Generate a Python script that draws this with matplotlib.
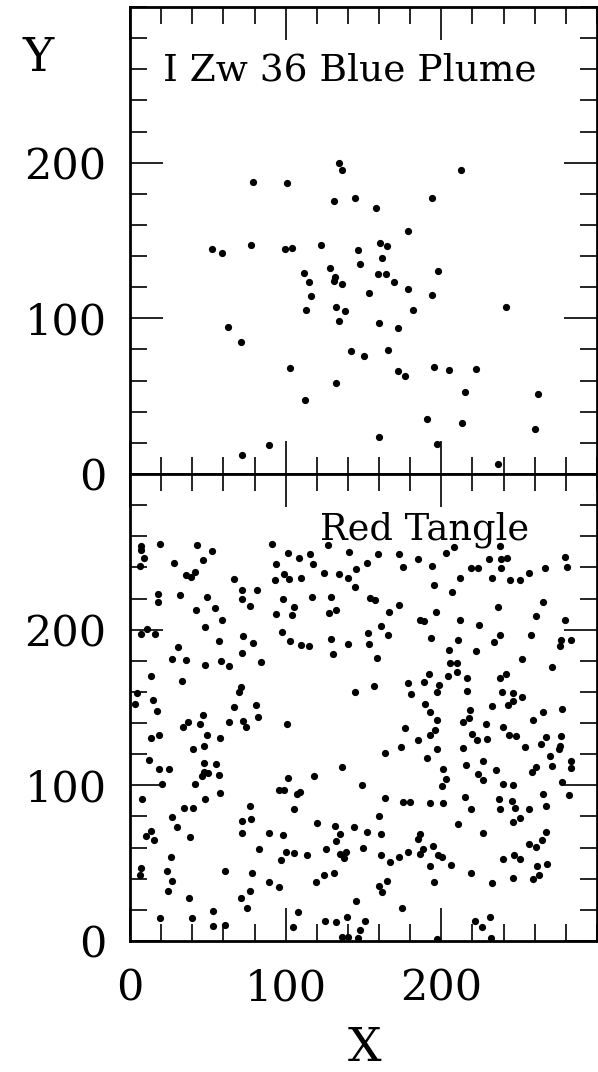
import matplotlib
matplotlib.use("Agg")
import matplotlib.pyplot as plt
from matplotlib.ticker import MultipleLocator

# ---------------- data ----------------
blue_x = [134.5, 136.4, 79.2, 100.8, 131.2, 144.7, 52.7, 59.1, 77.9, 99.7, 104.0, 122.7,
          146.4, 147.9, 128.2, 111.5, 131.9, 131.2, 114.7, 136.2, 153.5, 116.5, 132.1, 113.0,
          138.3, 134.5, 62.9, 71.5, 142.2, 150.3, 103.0, 132.3, 112.4, 89.1, 71.9,
          212.6, 194.0, 158.0, 178.7, 160.6, 165.4, 162.2, 198.0, 159.4, 164.4, 169.9, 178.3,
          194.2, 241.7, 181.5, 159.7, 171.9, 165.5, 171.9, 176.5, 195.1, 205.2, 222.2, 215.2,
          262.2, 190.8, 213.0, 260.3, 159.7, 197.1, 236.5]
blue_y = [200.1, 195.6, 187.7, 187.1, 175.1, 177.0, 144.7, 142.0, 147.1, 144.3, 145.4, 147.3,
          143.9, 134.9, 132.3, 129.1, 126.6, 124.0, 123.4, 122.1, 116.3, 114.6, 107.5, 105.6,
          104.5, 98.3, 94.7, 84.8, 79.1, 75.6, 68.4, 58.5, 47.6, 18.5, 12.1,
          195.0, 177.0, 170.9, 156.3, 148.2, 146.2, 138.5, 130.2, 128.7, 128.5, 123.1, 119.1,
          114.8, 107.1, 105.4, 97.2, 93.8, 79.5, 66.0, 63.0, 69.0, 66.9, 67.5, 52.8,
          51.5, 35.2, 32.6, 29.0, 23.6, 19.4, 6.7]

red_x = [7.1, 7.1, 9.0, 6.6, 19.5, 43.0, 52.5, 47.1, 28.0, 35.7, 39.2, 41.9, 66.6, 72.2, 72.0,
         81.3, 77.4, 18.2, 18.2, 32.1, 49.6, 54.7, 42.6, 58.9, 48.2, 10.6, 7.1, 15.8, 91.2, 101.5,
         93.8, 98.7, 93.1, 102.1, 98.5, 93.8, 97.4, 72.6,
         108.7, 115.4, 117.3, 127.4, 140.7, 159.3, 152.3, 145.0, 134.3, 139.8, 124.4, 109.8,
         144.3, 117.1, 128.9, 153.9, 157.5, 105.3, 103.8, 127.6, 132.5, 172.7, 166.5, 186.6,
         189.0, 196.3, 161.0, 153.1, 165.8, 172.7, 175.5, 185.0, 194.2, 195.1,
         202.8, 207.9, 237.8, 230.6, 238.3, 242.2, 219.0, 223.3, 238.3, 279.5, 280.5, 266.8,
         256.6, 211.7, 232.6, 244.1, 250.6, 206.9, 265.1, 236.3, 260.9, 211.9, 224.3, 279.4,
         238.0, 257.3,
         57.4, 79.1, 72.0, 102.7, 30.6, 26.8, 35.7, 48.2, 58.7, 63.4, 84.1, 13.5, 33.4, 71.1,
         70.0, 4.7, 3.0, 14.8, 17.5, 67.0, 80.9, 82.4, 46.9, 37.4, 34.3, 45.2, 63.6, 72.5, 74.2,
         100.6, 49.4, 18.6, 13.5, 57.8, 47.3, 40.5, 12.0, 47.3, 55.4, 18.6, 25.2, 47.3, 50.1,
         46.2, 57.4, 20.5, 41.9, 101.5, 95.5, 98.9,
         109.6, 115.0, 128.9, 139.8, 153.5, 130.2, 158.6, 193.5, 144.5, 156.7, 178.3, 189.0,
         192.0, 198.2, 196.9, 180.6, 189.2, 192.7, 197.2, 176.8, 195.9, 192.7, 184.7, 174.2,
         163.5, 197.4, 191.1, 136.4, 118.2, 149.0, 201.0, 200.2,
         210.9, 204.9, 205.5, 210.2, 210.2, 204.2, 216.6, 216.3, 222.2, 234.0, 251.8, 276.8,
         283.0, 276.3, 271.4, 241.7, 237.8, 239.1, 245.8, 251.8, 245.8, 243.0, 232.3, 218.2,
         218.0, 213.9, 228.8, 265.4, 277.6, 259.2, 239.5, 219.4, 222.9, 229.5, 243.4, 248.1,
         267.4, 276.6, 264.2, 276.2, 275.5, 253.7, 214.1, 269.9, 283.0, 283.2, 271.2, 260.5,
         258.3, 226.8, 216.0, 235.3, 223.3, 203.3, 226.8, 239.8, 245.8, 277.5,
         7.5, 57.6, 48.0, 34.9, 40.5, 27.0, 29.9, 38.7, 10.5, 13.3, 15.6, 76.9, 72.0, 77.9,
         72.2, 89.1, 98.5, 82.9, 100.0, 96.8, 26.1, 7.1, 6.2, 24.0, 27.0, 24.4, 61.2, 78.5,
         76.9, 71.4, 75.4, 89.4, 95.7, 37.6, 53.5, 19.4, 39.6, 53.0, 61.2,
         107.0, 109.4, 163.8, 175.1, 179.8, 192.5, 200.8, 105.3, 119.9, 131.7, 134.6, 132.2,
         144.1, 152.0, 159.7, 161.4, 186.3, 185.2, 105.3, 113.5, 125.6, 134.9, 138.7, 137.6,
         149.8, 161.2, 167.1, 172.6, 178.9, 188.3, 186.3, 194.6, 197.6, 200.2, 192.7, 195.1,
         119.3, 124.4, 131.2, 159.7, 162.0, 164.9, 145.5, 174.9, 108.1, 104.9, 125.2, 132.3,
         139.3, 151.2, 147.7, 135.9, 139.8, 146.2, 197.2,
         215.0, 237.2, 245.1, 265.4, 281.7, 219.2, 237.4, 247.3, 256.6, 267.1, 250.5, 246.0,
         210.7, 226.6, 267.4, 264.4, 256.5, 260.5, 206.3, 239.6, 246.9, 250.6, 261.4, 267.7,
         262.6, 259.0, 245.8, 219.2, 232.6, 221.7, 231.3, 226.4, 231.6]
red_y = [254.0, 251.0, 246.3, 240.6, 255.1, 254.5, 250.8, 244.7, 242.7, 235.2, 234.0, 237.3,
         232.7, 225.8, 220.0, 225.2, 215.2, 222.6, 217.5, 222.0, 220.9, 214.2, 212.6, 206.2,
         201.4, 200.4, 196.9, 196.9, 254.9, 249.5, 242.3, 235.9, 231.6, 232.5, 220.0, 210.2,
         198.7, 195.9,
         246.0, 248.3, 242.3, 254.3, 250.0, 248.3, 243.0, 238.9, 235.9, 233.1, 236.5, 233.1,
         227.3, 220.9, 221.3, 220.5, 219.2, 214.5, 209.4, 211.0, 212.6, 216.0, 211.5, 206.5,
         205.7, 211.3, 202.1, 197.6, 196.3, 248.5, 240.4, 245.1, 241.0, 228.8,
         249.5, 253.4, 253.7, 245.1, 245.5, 246.1, 239.5, 239.7, 239.3, 246.6, 240.2, 239.7,
         236.3, 233.1, 232.9, 231.6, 232.2, 224.5, 217.7, 214.7, 208.9, 206.2, 203.1, 206.2,
         196.3, 196.3,
         192.4, 191.6, 185.0, 192.4, 188.6, 180.9, 180.5, 177.3, 179.8, 176.4, 179.4, 170.0,
         167.0, 163.3, 160.1, 159.3, 152.0, 154.8, 147.5, 150.5, 151.8, 144.1, 144.9, 140.7,
         137.5, 139.4, 140.9, 141.3, 137.5, 139.2, 132.5, 132.1, 130.2, 130.2, 125.5, 123.4,
         116.0, 114.1, 113.7, 110.7, 110.7, 108.6, 108.1, 105.8, 106.4, 101.1, 100.6, 104.5,
         97.2, 96.8,
         190.3, 189.5, 193.7, 191.1, 190.9, 184.1, 181.5, 194.6, 160.1, 163.8, 165.9, 166.4,
         171.2, 164.2, 160.1, 158.4, 152.0, 147.1, 142.2, 136.8, 135.6, 132.1, 129.3, 124.6,
         121.0, 123.4, 117.8, 111.6, 106.0, 100.3, 110.3, 99.6,
         193.1, 186.9, 178.9, 178.3, 172.8, 170.4, 168.7, 160.6, 186.6, 192.0, 181.1, 193.3,
         193.3, 189.2, 176.2, 171.7, 168.7, 159.9, 159.3, 156.9, 153.9, 151.3, 150.7, 148.1,
         143.3, 140.7, 139.6, 147.1, 148.8, 142.2, 137.2, 133.0, 129.3, 129.8, 132.1, 131.5,
         130.8, 131.7, 126.3, 125.5, 123.4, 124.4, 123.7, 118.6, 115.4, 111.2, 112.2, 111.8,
         108.6, 115.4, 113.1, 109.6, 107.1, 103.9, 103.5, 100.6, 100.4, 102.2,
         91.5, 95.3, 91.3, 85.2, 85.7, 79.9, 73.0, 66.9, 67.5, 70.9, 64.7, 87.0, 76.9, 78.6,
         69.6, 69.6, 68.2, 58.9, 57.0, 52.3, 54.0, 47.0, 42.7, 45.1, 38.8, 32.0, 45.2, 43.8,
         32.2, 27.7, 21.3, 37.7, 34.8, 27.9, 19.1, 14.6, 14.6, 9.8, 10.1,
         94.7, 95.5, 91.9, 89.1, 89.3, 88.4, 88.9, 84.6, 76.1, 73.9, 68.5, 64.5,
         73.0, 70.1, 80.4, 68.8, 69.0, 65.6, 56.8, 55.3, 58.9, 56.2, 57.4, 53.6,
         59.8, 55.1, 50.8, 54.2, 57.3, 58.9, 56.0, 61.1, 55.3, 53.8, 48.5, 37.7,
         38.0, 42.7, 43.8, 35.6, 31.6, 38.6, 25.8, 20.9, 18.9, 8.9, 13.0, 12.3,
         15.5, 13.0, 7.2, 2.4, 2.7, 2.2, 1.0,
         92.7, 91.0, 90.2, 94.2, 94.0, 85.0, 85.0, 85.2, 84.9, 86.5, 78.8, 76.2,
         75.0, 69.6, 70.1, 64.7, 62.6, 60.7, 48.9, 52.8, 55.3, 52.5, 48.5, 49.7,
         42.2, 39.7, 40.3, 44.0, 37.5, 13.0, 15.1, 8.9, 1.8]

panel_titles = ["I Zw 36 Blue Plume", "Red Tangle"]
tick_vals = [0, 100, 200]

# ---------------- figure ----------------
plt.rcParams['font.family'] = ['DejaVu Serif']
W, H = 598, 1072
fig = plt.figure(figsize=(W / 100, H / 100), dpi=100)

left = 130 / W
width = 467 / W
ax_top = fig.add_axes([left, 1 - 474 / H, width, 467 / H])
ax_bot = fig.add_axes([left, 1 - 941 / H, width, 467 / H])

for ax in (ax_top, ax_bot):
    ax.set_xlim(0, 300)
    ax.set_ylim(0, 300)
    ax.set_yticks(tick_vals)
    ax.set_xticks(tick_vals)
    ax.xaxis.set_minor_locator(MultipleLocator(20))
    ax.yaxis.set_minor_locator(MultipleLocator(20))
    ax.tick_params(which='both', direction='in', top=True, right=True, width=1.2,
                   labelsize=31, colors='black')
    ax.tick_params(which='major', length=23.5)
    ax.tick_params(which='minor', length=12)
    ax.tick_params(axis='y', pad=17)
    ax.tick_params(axis='x', pad=19)
    for s in ax.spines.values():
        s.set_linewidth(2.0)

ax_top.tick_params(axis='x', labelbottom=False)

ax_top.plot(blue_x, blue_y, 'o', color='black', markersize=5.2, markeredgewidth=0)
ax_bot.plot(red_x, red_y, 'o', color='black', markersize=5.2, markeredgewidth=0)

ax_top.text(21.5, 253, panel_titles[0], fontsize=27, ha='left', va='baseline')
ax_bot.text(122, 258, panel_titles[1], fontsize=26.5, ha='left', va='baseline')

fig.text(365 / W, 1 - 1048 / H, "X", fontsize=34, ha='center', va='center')
fig.text(38 / W, 1 - 58 / H, "Y", fontsize=34, ha='center', va='center')

fig.savefig("out.png", dpi=100)
